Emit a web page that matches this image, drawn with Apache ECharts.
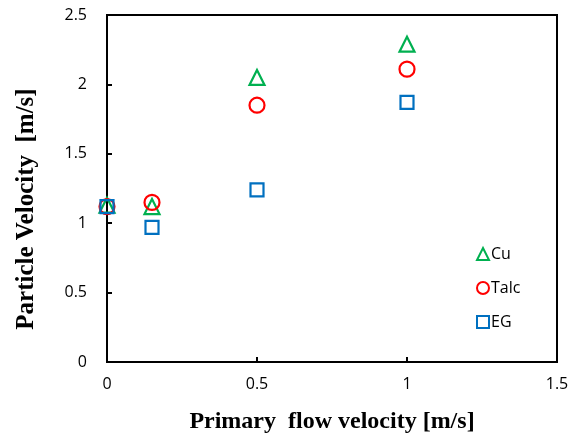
<!DOCTYPE html>
<html><head><meta charset="utf-8">
<script src="https://cdn.jsdelivr.net/npm/echarts@6/dist/echarts.min.js"></script>
<style>html,body{margin:0;padding:0;background:#fff}#c{width:579px;height:437px}</style>
</head><body><div id="c"></div>
<script>
const xValues = [0, 0.15, 0.5, 1];
const cuValues = [1.13, 1.12, 2.05, 2.29];
const talcValues = [1.12, 1.15, 1.85, 2.11];
const egValues = [1.12, 0.97, 1.24, 1.87];
const seriesNames = ['Cu', 'Talc', 'EG'];
const xTitle = 'Primary  flow velocity [m/s]';
const yTitle = 'Particle Velocity  [m/s]';

const pairs = v => xValues.map((x, i) => [x, v[i]]);
const mk = (name, data, symbol, color, size) => ({
  name, type: 'scatter', data: pairs(data), symbol, symbolSize: size,
  itemStyle: { color: 'rgba(255,255,255,0)', borderColor: color, borderWidth: 2.2, opacity: 1 },
  emphasis: { disabled: true }
});
const titleFont = { fontFamily: 'Liberation Serif', fontWeight: 'bold', fill: '#000' };
const chart = echarts.init(document.getElementById('c'), null, { renderer: 'canvas' });
chart.setOption({
  animation: false,
  backgroundColor: '#fff',
  grid: { left: 107, right: 22, top: 15, bottom: 75, show: true, borderColor: '#000', borderWidth: 2, backgroundColor: 'transparent' },
  legend: {
    orient: 'vertical', left: 471, top: 241, itemGap: 18, itemWidth: 12, itemHeight: 12,
    textStyle: { fontFamily: 'Open Sans', fontSize: 16, color: '#000', padding: [0, 0, 0, -3] },
    data: seriesNames
  },
  graphic: [
    { type: 'text', x: 332, y: 422,
      style: Object.assign({ text: xTitle, fontSize: 24, x: 0, y: 0, textAlign: 'center', textVerticalAlign: 'middle' }, titleFont) },
    { type: 'text', rotation: Math.PI / 2, x: 27, y: 209,
      style: Object.assign({ text: yTitle, fontSize: 25, x: 0, y: 0, textAlign: 'center', textVerticalAlign: 'middle' }, titleFont) }
  ],
  xAxis: {
    type: 'value', min: 0, max: 1.5, interval: 0.5,
    axisLine: { lineStyle: { color: '#000', width: 2 } },
    axisTick: { inside: true, length: 5, lineStyle: { color: '#000', width: 2 } },
    axisLabel: { fontFamily: 'Open Sans', fontSize: 16, color: '#000', margin: 14 },
    splitLine: { show: false }
  },
  yAxis: {
    type: 'value', min: 0, max: 2.5, interval: 0.5,
    axisLine: { lineStyle: { color: '#000', width: 2 } },
    axisTick: { inside: true, length: 5, lineStyle: { color: '#000', width: 2 } },
    axisLabel: { fontFamily: 'Open Sans', fontSize: 16, color: '#000', margin: 20 },
    splitLine: { show: false }
  },
  series: [
    mk('Cu', cuValues, 'triangle', '#00B050', 15),
    mk('Talc', talcValues, 'circle', '#FF0000', 15),
    mk('EG', egValues, 'rect', '#0070C0', 13)
  ]
});
</script></body></html>
